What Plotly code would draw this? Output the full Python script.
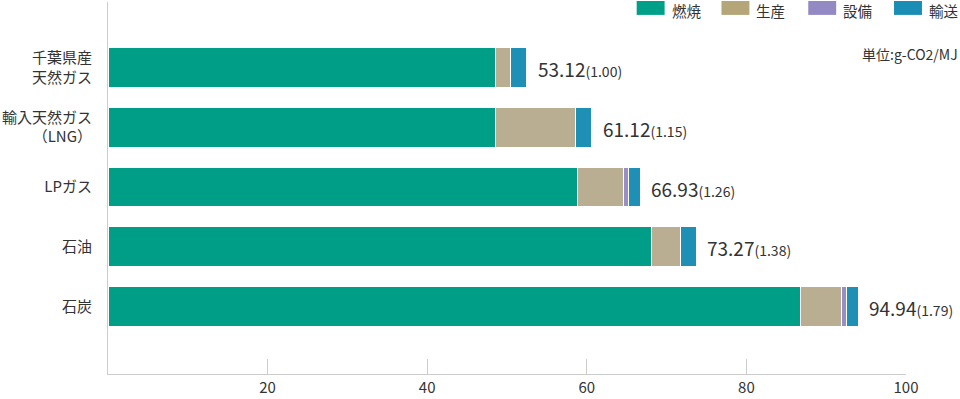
import plotly.graph_objects as go

categories = ["千葉県産<br>天然ガス", "輸入天然ガス<br>（LNG）", "LPガス", "石油", "石炭"]
series_names = ["燃焼", "生産", "設備", "輸送"]
combustion = [48.6, 48.6, 58.8, 68.1, 86.8]
production = [1.9, 10.0, 5.8, 3.6, 5.1]
equipment = [0.0, 0.0, 0.6, 0.0, 0.6]
transport = [2.0, 2.0, 1.5, 2.0, 1.5]
totals = ["53.12", "61.12", "66.93", "73.27", "94.94"]
ratios = ["(1.00)", "(1.15)", "(1.26)", "(1.38)", "(1.79)"]
x_ticks = [20, 40, 60, 80, 100]

bar_colors = ["#009e87", "#baae92", "#998fc8", "#1e8fb5"]
legend_colors = ["#00a088", "#b4a678", "#938ac4", "#1a8db5"]

FONT = "Noto Sans CJK JP"
TXT = "#333333"

fig = go.Figure()
for name, vals, col in zip(series_names, [combustion, production, equipment, transport], bar_colors):
    fig.add_trace(go.Bar(
        y=categories, x=vals, name=name, orientation="h",
        marker=dict(color=col, line=dict(color="white", width=1)),
        width=0.667, showlegend=False, hoverinfo="x+name",
    ))

annotations = []
for i, cat in enumerate(categories):
    s = combustion[i] + production[i] + equipment[i] + transport[i]
    annotations.append(dict(
        x=s, y=cat, xref="x", yref="y", xanchor="left", yanchor="middle",
        xshift=9, yshift=-1, showarrow=False,
        text=f"{totals[i]}<span style='font-size:14px'>{ratios[i]}</span>",
        font=dict(family=FONT, size=19, color=TXT),
    ))

# pixel -> paper helpers
L, R, T, B = 106, 54, 2, 22
W, H = 960, 399
pw, ph = W - L - R, H - T - B
px = lambda p: (p - L) / pw
py = lambda p: (H - B - p) / ph

shapes = []
legend_x = [636, 721, 808, 894]
for name, col, lx in zip(series_names, legend_colors, legend_x):
    shapes.append(dict(type="rect", xref="paper", yref="paper",
                       x0=px(lx), x1=px(lx + 28), y0=py(15), y1=py(1),
                       fillcolor=col, line=dict(width=0)))
    annotations.append(dict(x=px(lx + 33), y=py(10.5), xref="paper", yref="paper",
                            xanchor="left", yanchor="middle", showarrow=False,
                            text=name, font=dict(family=FONT, size=14.5, color=TXT)))

annotations.append(dict(x=px(960), y=py(54), xref="paper", yref="paper",
                        xanchor="right", yanchor="middle", showarrow=False,
                        text="単位:g-CO2/MJ", font=dict(family=FONT, size=14, color=TXT)))

fig.update_layout(
    barmode="stack",
    width=W, height=H,
    margin=dict(l=L, r=R, t=T, b=B, pad=0),
    plot_bgcolor="white", paper_bgcolor="white",
    font=dict(family=FONT, size=15, color=TXT),
    annotations=annotations, shapes=shapes,
    xaxis=dict(range=[0, 100], tickvals=x_ticks, showgrid=False, zeroline=False,
               showline=True, linecolor="#cccccc", linewidth=1,
               ticks="inside", ticklen=15, tickcolor="#cccccc", tickwidth=1,
               tickfont=dict(family=FONT, size=15, color=TXT)),
    yaxis=dict(categoryorder="array", categoryarray=categories,
               range=[4 + 1.133, -1.1], showgrid=False, zeroline=False,
               showline=True, linecolor="#cccccc", linewidth=1,
               ticks="", ticklabelstandoff=12,
               tickfont=dict(family=FONT, size=15, color=TXT)),
)

fig.write_html("out.html", config={"displayModeBar": False},
               post_script="document.body.style.margin='0';document.body.style.overflow='hidden';")
